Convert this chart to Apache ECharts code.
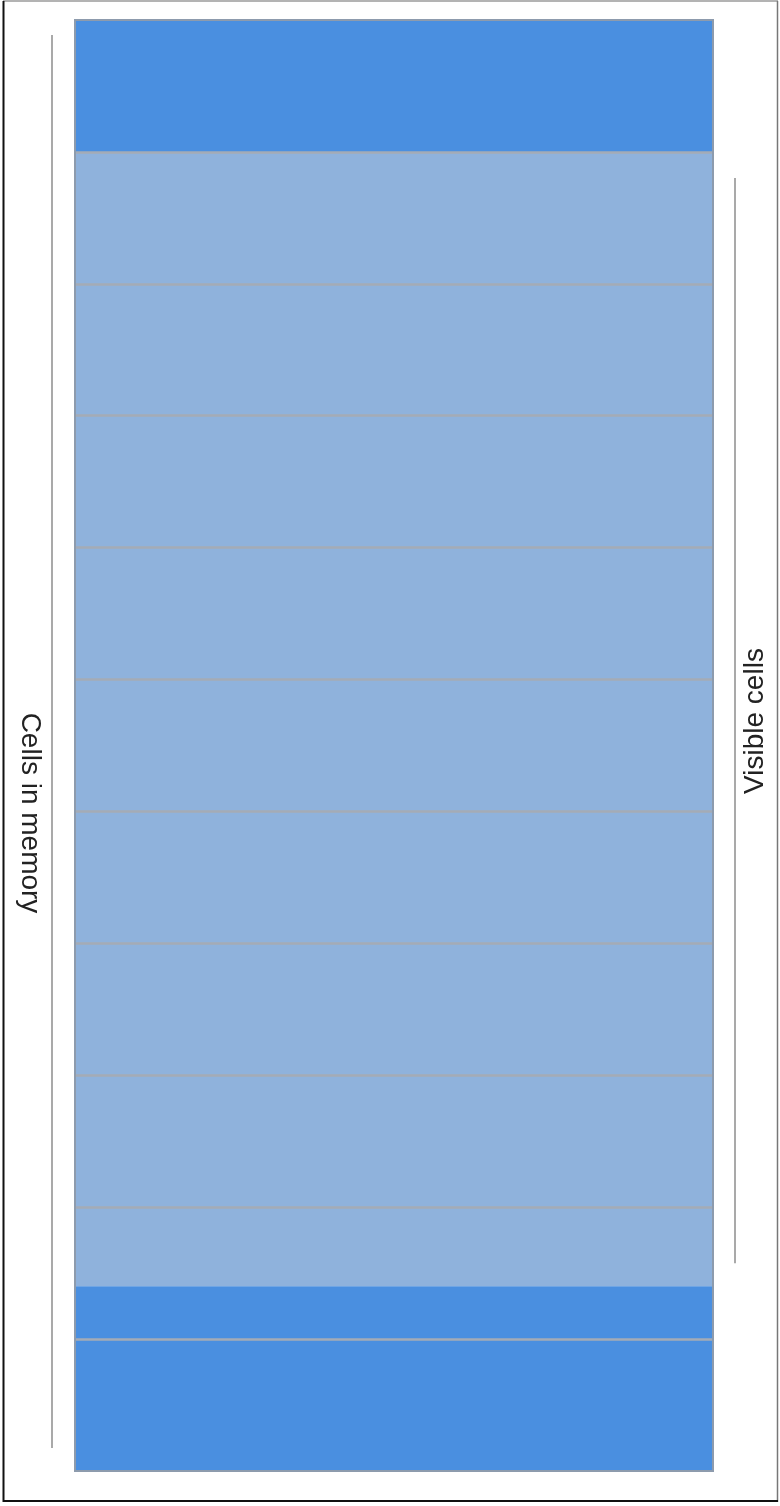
<!DOCTYPE html>
<html><head><meta charset="utf-8">
<script src="https://cdn.jsdelivr.net/npm/echarts@6/dist/echarts.min.js"></script>
<style>html,body{margin:0;padding:0;background:#fff}#c{width:780px;height:1506px}</style>
</head><body><div id="c"></div>
<script>
// Cells in memory (each cell = 1 unit); viewport shows part of them
const cellCount = 11;
const cellBoundaries = [1, 2, 3, 4, 5, 6, 7, 8, 9, 10];
const regionNames = ['Above viewport', 'Visible cells', 'Below viewport'];
const regionSizes = [1, 8.6, 1.4];
const regionColors = ['#4a8fe0', '#8fb2dc', '#4a8fe0'];
const viewport = [1, 9.6];
const labelLeft = 'Cells in memory';
const labelRight = 'Visible cells';

const chart = echarts.init(document.getElementById('c'), null, {renderer: 'canvas'});
const series = regionSizes.map((v, i) => ({
  name: regionNames[i], type: 'bar', stack: 'cells', barWidth: '100%',
  data: [v], itemStyle: {color: regionColors[i]}, silent: true
}));
series[0].markLine = {
  silent: true, symbol: 'none', animation: false,
  label: {show: false},
  lineStyle: {color: '#a4abb6', width: 2.5, type: 'solid', opacity: 1},
  data: cellBoundaries.map(b => ({yAxis: b}))
};
chart.setOption({
  animation: false,
  grid: {left: 75, right: 67, top: 20, bottom: 35},
  xAxis: {type: 'category', data: ['cells'], show: false, boundaryGap: true},
  yAxis: {type: 'value', inverse: true, min: 0, max: cellCount, show: false},
  series: series
});

const yp = v => chart.convertToPixel({yAxisIndex: 0}, v);
const top0 = yp(0), bot0 = yp(cellCount);
const vTop = yp(viewport[0]), vBot = yp(viewport[1]);
const gl = 75, gr = 780 - 67;
const font = '28px "Liberation Sans", Arial, Helvetica, sans-serif';
chart.setOption({
  graphic: [
    {type: 'rect', shape: {x: gl, y: top0, width: gr - gl, height: bot0 - top0},
     style: {fill: 'none', stroke: '#8d9bad', lineWidth: 2}, z: 100, silent: true},
    {type: 'line', shape: {x1: 52, y1: top0 + 15, x2: 52, y2: bot0 - 23},
     style: {stroke: '#a9a9a9', lineWidth: 2}, silent: true},
    {type: 'line', shape: {x1: 735, y1: vTop + 26, x2: 735, y2: vBot - 23},
     style: {stroke: '#a9a9a9', lineWidth: 2}, silent: true},
    {type: 'text', x: 30, y: 813, rotation: -Math.PI / 2,
     style: {text: labelLeft, font: font, fill: '#222', align: 'center', verticalAlign: 'middle'}, silent: true},
    {type: 'text', x: 755, y: 721, rotation: Math.PI / 2,
     style: {text: labelRight, font: font, fill: '#222', align: 'center', verticalAlign: 'middle'}, silent: true},
    {type: 'line', shape: {x1: 3, y1: 1, x2: 778, y2: 1}, style: {stroke: '#9a9a9a', lineWidth: 1.5}, silent: true},
    {type: 'line', shape: {x1: 777.5, y1: 1, x2: 777.5, y2: 1502}, style: {stroke: '#777', lineWidth: 1.5}, silent: true},
    {type: 'line', shape: {x1: 3.5, y1: 1, x2: 3.5, y2: 1502}, style: {stroke: '#111', lineWidth: 2}, silent: true},
    {type: 'line', shape: {x1: 3, y1: 1501, x2: 778, y2: 1501}, style: {stroke: '#111', lineWidth: 2}, silent: true}
  ]
});
</script></body></html>
